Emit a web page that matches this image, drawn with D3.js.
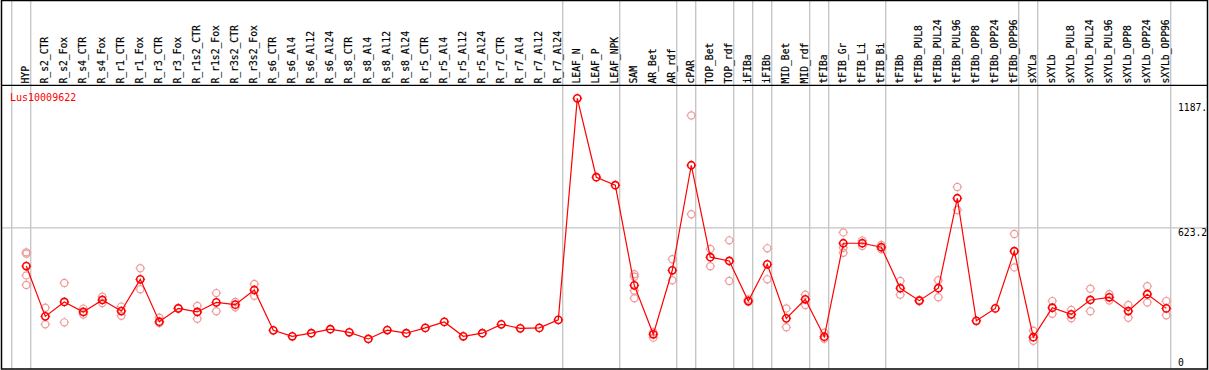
<!DOCTYPE html>
<html lang="en">

<head>
    <meta charset="UTF-8">
    <title>Lus10009622</title>
    <script src="https://d3js.org/d3.v7.min.js"></script>
    <style>
        body { margin: 0; }
        text { font-family: "DejaVu Sans Mono", monospace; font-size: 9.7px; }
    </style>
</head>

<body>

    <script>
        var width = 1209;
        var height = 370;

        var gene = "Lus10009622";

        var samples = ["HYP", "R_s2_CTR", "R_s2_Fox", "R_s4_CTR", "R_s4_Fox", "R_r1_CTR", "R_r1_Fox",
            "R_r3_CTR", "R_r3_Fox", "R_r1s2_CTR", "R_r1s2_Fox", "R_r3s2_CTR", "R_r3s2_Fox",
            "R_s6_CTR", "R_s6_Al4", "R_s6_Al12", "R_s6_Al24", "R_s8_CTR", "R_s8_Al4", "R_s8_Al12", "R_s8_Al24",
            "R_r5_CTR", "R_r5_Al4", "R_r5_Al12", "R_r5_Al24", "R_r7_CTR", "R_r7_Al4", "R_r7_Al12", "R_r7_Al24",
            "LEAF_N", "LEAF_P", "LEAF_NPK", "SAM", "AR_Bet", "AR_rdf", "cPAR", "TOP_Bet", "TOP_rdf",
            "iFIBa", "iFIBb", "MID_Bet", "MID_rdf", "tFIBa", "tFIB_Gr", "tFIB_Li", "tFIB_Bi", "tFIBb",
            "tFIBb_PUL8", "tFIBb_PUL24", "tFIBb_PUL96", "tFIBb_OPP8", "tFIBb_OPP24", "tFIBb_OPP96",
            "sXYLa", "sXYLb", "sXYLb_PUL8", "sXYLb_PUL24", "sXYLb_PUL96", "sXYLb_OPP8", "sXYLb_OPP24", "sXYLb_OPP96"];

        // mean expression per sample
        var means = [451, 224, 289, 244, 298, 248, 391, 200, 260, 244, 287, 277, 343,
            161, 134, 148, 166, 152, 122, 162, 148, 172, 199, 134, 148, 188, 170, 172, 208,
            1208, 852, 816, 364, 143, 432, 906, 491, 474,
            293, 459, 215, 301, 132, 554, 554, 536, 351,
            295, 351, 757, 204, 260, 518,
            130, 263, 233, 298, 310, 248, 324, 260];

        // replicate values per sample
        var replicates = [[513, 507, 409, 366], [263, 188], [375, 197], [259, 232], [313, 284], [268, 227],
            [441, 346], [218, 194], [262, 258], [271, 213], [329, 247], [289, 265], [370, 317],
            [], [], [], [], [], [], [], [], [], [], [], [], [], [], [], [],
            [], [], [], [414, 403, 340, 306], [152, 128], [482, 387], [1131, 685], [528, 450], [567, 384],
            [300, 290], [531, 391], [260, 175], [322, 275], [150, 123], [603, 511, 534], [566, 542], [546, 527],
            [384, 322], [298, 292], [387, 310], [808, 704], [], [], [596, 445],
            [159, 114], [293, 236], [253, 215], [349, 247], [324, 296], [275, 218], [360, 287], [293, 229]];

        // samples that close a group (vertical separator drawn after them)
        var groupEnds = ["HYP", "R_r7_Al24", "LEAF_NPK", "AR_rdf", "cPAR", "TOP_rdf", "iFIBa", "iFIBb",
            "MID_rdf", "tFIBa", "tFIB_Bi", "tFIBb_OPP96", "sXYLa", "sXYLb_OPP96"];

        var yTicks = [1187, 623.2, 0];
        var yTickLabels = ["1187.", "623.2", "0"];

        var svg = d3.select("body")
            .append("svg")
            .attr("width", width)
            .attr("height", height);

        var x = d3.scalePoint()
            .domain(samples)
            .range([26.3, 1166.3]);

        var y = d3.scaleLinear()
            .domain([0, 1187])
            .range([366, 103]);

        var step = x.step();

        // vertical group separators
        var sepX = [x(samples[0]) - step + 4.4].concat(groupEnds.map(function (s) { return x(s) + 4.4; }));
        svg.selectAll(".sep")
            .data(sepX)
            .enter()
            .append("line")
            .attr("class", "sep")
            .attr("x1", function (d) { return d; })
            .attr("x2", function (d) { return d; })
            .attr("y1", 0)
            .attr("y2", 369)
            .attr("stroke", "#c4c4c4")
            .attr("stroke-width", 1.3);

        // middle grid line
        svg.append("line")
            .attr("x1", 1)
            .attr("x2", 1207.5)
            .attr("y1", y(yTicks[1]))
            .attr("y2", y(yTicks[1]))
            .attr("stroke", "#c4c4c4")
            .attr("stroke-width", 1.3);

        // frame and header separator
        svg.append("rect")
            .attr("x", 1.5)
            .attr("y", 0.5)
            .attr("width", 1206)
            .attr("height", 368.5)
            .attr("fill", "none")
            .attr("stroke", "black")
            .attr("stroke-width", 1.5);

        svg.append("line")
            .attr("x1", 1)
            .attr("x2", 1208)
            .attr("y1", 85.3)
            .attr("y2", 85.3)
            .attr("stroke", "black")
            .attr("stroke-width", 1.3);

        // sample names, rotated
        svg.selectAll(".lab")
            .data(samples)
            .enter()
            .append("text")
            .attr("class", "lab")
            .attr("transform", function (d) {
                return "translate(" + (Math.round(x(d)) + 2.6) + ",83.5) rotate(-90)";
            })
            .attr("fill", "black")
            .attr("stroke", "black")
            .attr("stroke-width", 0.2)
            .text(function (d) { return d; });

        // y labels on the right
        svg.selectAll(".ytick")
            .data(yTicks)
            .enter()
            .append("text")
            .attr("class", "ytick")
            .attr("x", 1178)
            .attr("y", function (d) { return Math.min(y(d) + 8, 366); })
            .attr("fill", "black")
            .text(function (d, i) { return yTickLabels[i]; });

        svg.append("text")
            .attr("x", 10)
            .attr("y", 101)
            .attr("fill", "red")
            .style("font-size", "10px")
            .text(gene);

        function marker(g, cx, cy, r, color, sw) {
            g.append("circle")
                .attr("cx", cx)
                .attr("cy", cy)
                .attr("r", r)
                .attr("fill", "none")
                .attr("stroke", color)
                .attr("stroke-width", sw);
            [[0, -1], [0, 1], [-1, 0], [1, 0]].forEach(function (v) {
                g.append("line")
                    .attr("x1", cx + v[0] * r)
                    .attr("y1", cy + v[1] * r)
                    .attr("x2", cx + v[0] * (r + 1.3))
                    .attr("y2", cy + v[1] * (r + 1.3))
                    .attr("stroke", color)
                    .attr("stroke-width", 0.9);
            });
        }

        // replicates
        var repG = svg.append("g");
        samples.forEach(function (s, i) {
            replicates[i].forEach(function (v) {
                marker(repG, x(s), y(v), 3.6, "#ef9a9a", 1.2);
            });
        });

        // mean line
        var line = d3.line()
            .x(function (d, i) { return x(samples[i]); })
            .y(function (d) { return y(d); });

        svg.append("path")
            .attr("d", line(means))
            .attr("fill", "none")
            .attr("stroke", "red")
            .attr("stroke-width", 1.2);

        var meanG = svg.append("g");
        samples.forEach(function (s, i) {
            marker(meanG, x(s), y(means[i]), 3.6, "red", 1.6);
        });
    </script>
</body>

</html>
